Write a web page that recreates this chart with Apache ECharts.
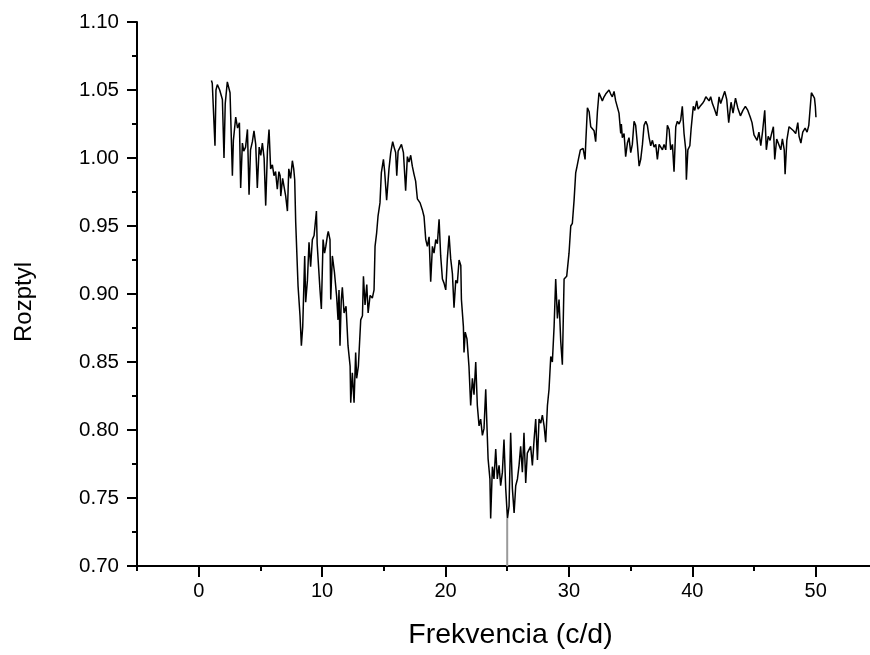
<!DOCTYPE html>
<html>
<head>
<meta charset="utf-8">
<script src="https://cdn.jsdelivr.net/npm/echarts@6/dist/echarts.min.js"></script>
<style>
html,body{margin:0;padding:0;background:#fff;}
#chart{width:870px;height:655px;}
</style>
</head>
<body>
<div id="chart"></div>
<script>
// Frequency (c/d)
var freq = [
1.03,1.10,1.32,1.40,1.51,1.70,1.92,2.05,2.15,2.32,2.54,2.73,2.81,3.00,3.15,3.30,3.40,3.54,3.65,3.80,
3.95,4.08,4.20,4.35,4.48,4.62,4.75,4.90,5.03,5.16,5.30,5.43,5.57,5.70,5.83,5.97,6.10,6.23,6.37,6.50,
6.60,6.65,6.80,6.92,7.05,7.19,7.30,7.45,7.59,7.70,7.78,7.86,8.05,8.21,8.32,8.43,8.59,8.67,8.81,8.94,
9.07,9.21,9.35,9.54,9.60,9.75,9.83,9.94,10.08,10.20,10.30,10.43,10.50,10.64,10.70,10.83,11.00,11.18,11.29,11.37,
11.45,11.55,11.64,11.78,11.94,12.10,12.27,12.32,12.45,12.59,12.72,12.80,12.94,13.13,13.27,13.35,13.48,13.62,13.73,13.89,
14.07,14.21,14.29,14.42,14.53,14.69,14.80,14.97,15.07,15.23,15.42,15.56,15.72,15.83,15.96,16.05,16.16,16.32,16.43,16.59,
16.77,16.91,17.04,17.18,17.31,17.45,17.58,17.72,17.94,18.12,18.26,18.40,18.53,18.67,18.80,18.94,19.07,19.21,19.34,19.48,
19.61,19.75,19.88,20.02,20.15,20.29,20.42,20.56,20.69,20.83,20.96,21.10,21.24,21.29,21.45,21.50,21.60,21.74,21.90,22.04,
22.18,22.31,22.45,22.58,22.72,22.85,22.99,23.12,23.26,23.34,23.45,23.60,23.66,23.80,23.93,24.07,24.20,24.34,24.47,24.61,
24.74,24.88,25.02,25.15,25.28,25.42,25.56,25.69,25.83,25.96,26.09,26.23,26.36,26.50,26.63,26.77,26.90,27.04,27.18,27.31,
27.45,27.58,27.72,27.85,27.99,28.12,28.26,28.39,28.53,28.66,28.80,28.93,29.07,29.20,29.34,29.47,29.61,29.74,29.82,30.01,
30.15,30.28,30.42,30.55,30.64,30.77,30.93,31.15,31.31,31.36,31.50,31.64,31.77,31.91,32.04,32.17,32.31,32.44,32.58,32.71,
32.85,32.98,33.12,33.25,33.39,33.52,33.66,33.79,33.93,34.06,34.20,34.25,34.33,34.47,34.60,34.74,34.87,35.01,35.14,35.28,
35.41,35.55,35.69,35.82,35.96,36.09,36.23,36.36,36.50,36.63,36.77,36.90,37.04,37.17,37.31,37.44,37.58,37.71,37.85,37.98,
38.12,38.25,38.39,38.52,38.66,38.79,38.93,39.06,39.19,39.33,39.47,39.52,39.64,39.80,39.90,40.08,40.20,40.36,40.47,40.63,
40.82,40.96,41.10,41.22,41.36,41.49,41.63,41.76,41.98,42.17,42.30,42.44,42.63,42.79,42.95,43.14,43.30,43.50,43.68,43.90,
44.10,44.30,44.50,44.70,44.84,45.00,45.10,45.25,45.40,45.55,45.70,45.87,46.00,46.15,46.30,46.40,46.57,46.68,46.84,47.00,
47.17,47.30,47.45,47.52,47.66,47.84,48.00,48.20,48.38,48.55,48.65,48.80,48.95,49.14,49.30,49.44,49.60,49.65,49.80,49.90,
49.97,50.02
];
// Rozptyl (dispersion)
var rozptyl = [
1.057,1.055,1.009,1.050,1.054,1.050,1.043,1.000,1.040,1.056,1.048,0.987,1.013,1.030,1.022,1.026,0.978,1.011,1.005,1.008,
1.021,0.973,1.006,1.012,1.020,1.010,0.978,1.008,1.002,1.011,1.000,0.965,1.005,1.021,0.992,0.995,0.987,0.990,0.977,0.990,
0.987,0.972,0.985,0.984,0.972,0.961,0.992,0.985,0.998,0.992,0.984,0.953,0.906,0.884,0.862,0.876,0.928,0.894,0.910,0.938,
0.920,0.940,0.943,0.961,0.937,0.937,0.903,0.889,0.940,0.930,0.935,0.943,0.946,0.940,0.896,0.928,0.916,0.898,0.881,0.903,
0.862,0.895,0.905,0.886,0.891,0.862,0.847,0.820,0.842,0.820,0.857,0.838,0.847,0.881,0.884,0.913,0.892,0.907,0.886,0.899,
0.897,0.903,0.935,0.945,0.957,0.967,0.989,0.999,0.990,0.969,0.992,1.004,1.012,1.008,1.004,0.987,1.005,1.008,1.010,1.004,
0.976,1.001,0.997,1.002,0.994,0.988,0.983,0.970,0.967,0.962,0.957,0.940,0.935,0.942,0.909,0.935,0.930,0.940,0.937,0.955,
0.928,0.911,0.908,0.903,0.926,0.943,0.926,0.915,0.890,0.910,0.908,0.925,0.921,0.896,0.876,0.857,0.872,0.867,0.847,0.818,
0.838,0.826,0.850,0.818,0.803,0.808,0.796,0.801,0.830,0.808,0.779,0.764,0.735,0.773,0.764,0.786,0.764,0.774,0.759,0.769,
0.793,0.757,0.735,0.744,0.798,0.757,0.739,0.759,0.764,0.774,0.788,0.769,0.798,0.761,0.783,0.783,0.788,0.774,0.793,0.808,
0.778,0.808,0.805,0.811,0.803,0.791,0.818,0.830,0.854,0.850,0.876,0.911,0.882,0.896,0.865,0.848,0.911,0.911,0.913,0.930,
0.950,0.952,0.969,0.989,0.993,0.999,1.006,1.007,0.999,1.010,1.037,1.034,1.023,1.022,1.020,1.012,1.034,1.048,1.049,1.042,
1.045,1.047,1.047,1.050,1.047,1.045,1.049,1.042,1.041,1.033,1.018,1.025,1.015,1.018,1.001,1.011,1.015,1.004,1.010,1.027,
1.024,1.010,0.994,0.999,1.010,1.024,1.027,1.024,1.015,1.009,1.013,1.008,1.010,0.999,1.010,1.009,1.006,1.010,1.006,1.024,
1.021,1.006,1.010,0.990,1.023,1.027,1.025,1.028,1.038,1.018,1.006,0.984,1.006,1.009,1.021,1.038,1.035,1.042,1.036,1.038,
1.040,1.042,1.045,1.046,1.042,1.045,1.040,1.037,1.031,1.045,1.040,1.044,1.049,1.043,1.026,1.041,1.033,1.044,1.037,1.031,
1.035,1.038,1.035,1.030,1.026,1.017,1.018,1.013,1.019,1.009,1.020,1.035,1.006,1.016,1.013,1.017,1.023,0.999,1.014,1.013,
1.006,1.014,1.006,0.988,1.013,1.023,1.022,1.020,1.018,1.026,1.016,1.011,1.019,1.022,1.019,1.024,1.024,1.048,1.048,1.044,
1.038,1.030
];
// Gray spike at 25 c/d (drops below axis)
var spikeFreq = [25.0, 25.0];
var spikeVal = [0.735, 0.70];

var xMajorTicks = [0, 10, 20, 30, 40, 50];
var xMinorTicks = [-5, 5, 15, 25, 35, 45];

var mainData = freq.map(function (f, i) { return [f, rozptyl[i]]; });
var spikeData = spikeFreq.map(function (f, i) { return [f, spikeVal[i]]; });

var FONT = 'Liberation Sans, Arial, sans-serif';
var chart = echarts.init(document.getElementById('chart'), null, {renderer: 'canvas'});
chart.setOption({
  animation: false,
  backgroundColor: '#ffffff',
  grid: {left: 137, right: 0, top: 22, bottom: 88, containLabel: false},
  xAxis: [{
    type: 'value', min: -5, max: 54.4,
    name: 'Frekvencia (c/d)', nameLocation: 'middle', nameGap: 55,
    nameTextStyle: {fontFamily: FONT, fontSize: 28.5, color: '#000', padding: [0, 0, 0, 14]},
    axisLine: {show: true, onZero: false, lineStyle: {color: '#000', width: 2}},
    axisTick: {show: true, length: 11, lineStyle: {color: '#000', width: 2}, customValues: xMajorTicks},
    axisLabel: {show: true, margin: 15, fontFamily: FONT, fontSize: 20, color: '#000', customValues: xMajorTicks},
    splitLine: {show: false}
  }, {
    type: 'value', min: -5, max: 54.4, position: 'bottom', gridIndex: 0,
    axisLine: {show: false},
    axisTick: {show: true, length: 5, lineStyle: {color: '#000', width: 2}, customValues: xMinorTicks},
    axisLabel: {show: false},
    splitLine: {show: false}
  }],
  yAxis: {
    type: 'value', min: 0.70, max: 1.10, interval: 0.05,
    name: 'Rozptyl', nameLocation: 'middle', nameGap: 101, nameRotate: 90,
    nameTextStyle: {fontFamily: FONT, fontSize: 24, color: '#000', padding: [0, 16, 0, 0]},
    axisLine: {show: true, onZero: false, lineStyle: {color: '#000', width: 2}},
    axisTick: {show: true, length: 10, lineStyle: {color: '#000', width: 2}},
    minorTick: {show: true, splitNumber: 2, length: 5, lineStyle: {color: '#000', width: 2}},
    axisLabel: {margin: 18, fontFamily: FONT, fontSize: 20.5, color: '#000',
      formatter: function (v) { return v.toFixed(2); }},
    splitLine: {show: false}
  },
  series: [{
    type: 'line', xAxisIndex: 0, data: mainData, showSymbol: false, symbol: 'none',
    lineStyle: {color: '#000', width: 1.5}, clip: true
  }, {
    type: 'line', xAxisIndex: 0, data: spikeData, showSymbol: false, symbol: 'none',
    lineStyle: {color: '#9a9a9a', width: 2}, clip: true
  }]
});
</script>
</body>
</html>
